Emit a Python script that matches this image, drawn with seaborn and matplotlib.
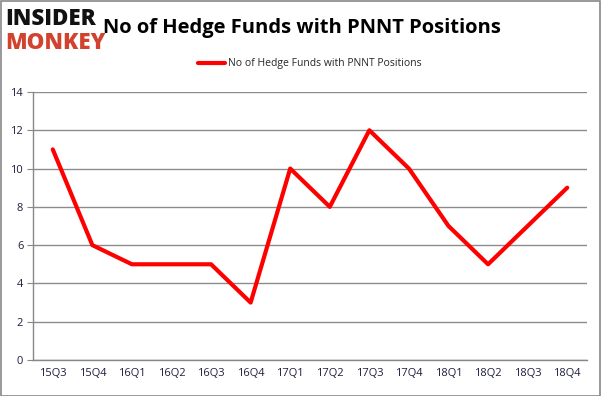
import matplotlib
matplotlib.use("Agg")
import matplotlib.pyplot as plt
from matplotlib.ticker import FixedLocator, NullFormatter
import seaborn as sns
import pandas as pd
import numpy as np

# data
quarters = ['15Q3', '15Q4', '16Q1', '16Q2', '16Q3', '16Q4', '17Q1',
            '17Q2', '17Q3', '17Q4', '18Q1', '18Q2', '18Q3', '18Q4']
funds = [11, 6, 5, 5, 5, 3, 10, 8, 12, 10, 7, 5, 7, 9]
series_name = 'No of Hedge Funds with PNNT Positions'

df = pd.DataFrame({'quarter': quarters, 'funds': funds})

sns.set_style('white')
plt.rcParams['font.family'] = ['Open Sans', 'DejaVu Sans']

fig = plt.figure(figsize=(6.01, 3.96), dpi=100)
ax = fig.add_axes([0.0549, 0.0909, 0.9218, 0.6768])

sns.lineplot(data=df, x='quarter', y='funds', color='#ff0000', linewidth=3,
             label=series_name, ax=ax, sort=False)

ax.set_xlim(-0.5, len(quarters) - 0.5)
ax.set_ylim(0, 14)
ax.set_yticks(range(0, 15, 2))
ax.set_xticks(range(len(quarters)))
ax.set_xticklabels(quarters)
ax.xaxis.set_minor_locator(FixedLocator(np.arange(-0.5, len(quarters), 1)))
ax.xaxis.set_minor_formatter(NullFormatter())
ax.tick_params(axis='x', which='major', length=0, labelsize=8, pad=6,
               labelcolor='#1f1f3f')
ax.tick_params(axis='x', which='minor', length=4, color='#888888', width=1)
ax.tick_params(axis='y', length=4, color='#888888', labelsize=8, pad=3,
               labelcolor='#1f1f3f', left=True)
ax.set_xlabel('')
ax.set_ylabel('')
ax.grid(axis='y', color='#8c8c8c', linewidth=1)
ax.set_axisbelow(True)
for side in ['top', 'right']:
    ax.spines[side].set_visible(False)
for side in ['left', 'bottom']:
    ax.spines[side].set_color('#888888')
    ax.spines[side].set_linewidth(1)

leg = ax.legend(loc='upper center', bbox_to_anchor=(0.5, 1.16), frameon=False,
                fontsize=7.5, handlelength=2.6, handletextpad=0.3)

fig.text(0.502, 0.93, series_name, ha='center', va='center',
         fontsize=14.5, fontweight='bold', color='#000000')

# logo
fig.text(0.008, 0.952, 'INSIDER', ha='left', va='center', fontsize=16,
         fontweight='heavy', color='#111111')
fig.text(0.008, 0.892, 'MONKEY', ha='left', va='center', fontsize=16,
         fontweight='heavy', color='#d1432f')

border = plt.Rectangle((0.001, 0.001), 0.997, 0.997, transform=fig.transFigure,
                       fill=False, edgecolor='#888888', linewidth=1.2)
fig.patches.append(border)

fig.savefig('out.png', dpi=100)
